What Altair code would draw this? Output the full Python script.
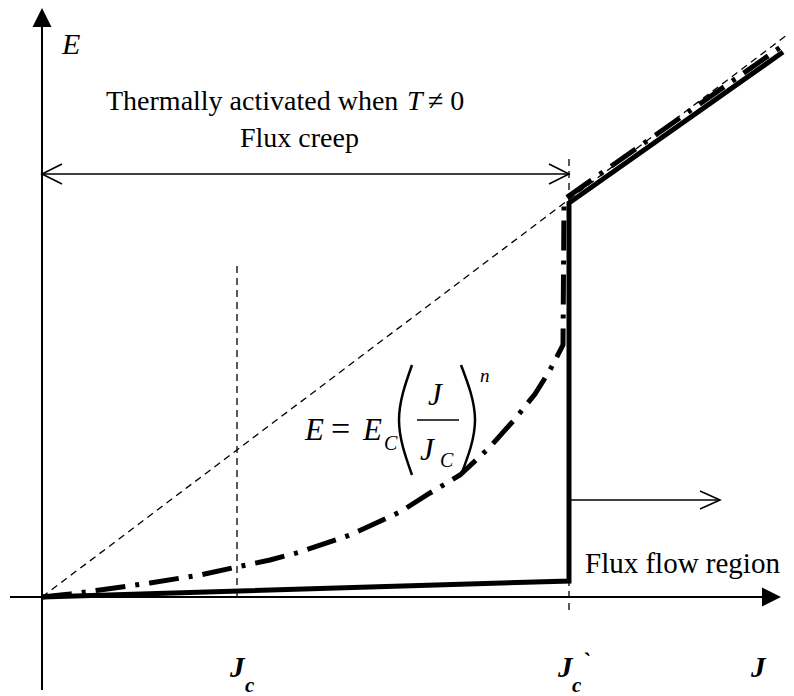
import altair as alt
import pandas as pd

# Sketch frame: J grows to the right, E grows upwards, origin where the axes cross
J_DOMAIN = [-42, 752]
E_DOMAIN = [-99, 597]
FONT = "Liberation Serif"

# ---- axes (with filled arrowheads) ----
axis_j = [-32, 0]
axis_j2 = [722, 0]
axis_e = [0, -93]
axis_e2 = [0, 570]
head_up = [0, 579.5]       # J, E of the arrowhead on the E axis
head_right = [729.5, 0]    # J, E of the arrowhead on the J axis

# ---- thin dashed guides: J_c, J_c` and the linear E-J line ----
guide_j = [195, 527, 0]
guide_j2 = [195, 527, 745]
guide_e = [0, -13, 0]
guide_e2 = [335, 442, 562]

# ---- arrow shafts: flux-creep span and flux-flow pointer ----
shaft_j = [0, 529]
shaft_j2 = [527, 678]
shaft_e = [423, 97]
chevron_id = ["left", "left", "left", "right", "right", "right", "flow", "flow", "flow"]
chevron_j = [20, 0, 20, 507, 527, 507, 658, 678, 658]
chevron_e = [433, 423, 413, 433, 423, 413, 106, 97, 88]

# ---- E-J characteristics ----
solid_j = [0, 527, 527, 741]
solid_e = [0, 16, 394, 545]
power_j = [0, 28, 58, 108, 158, 195, 228, 258, 308, 358, 388, 418, 448, 473,
           493, 508, 521, 522, 524, 743]
power_e = [0, 3, 7, 14, 22, 30, 37, 45, 62, 85, 104, 122, 150, 178,
           203, 227, 252, 392, 399, 553]

# ---- formula E = E_C (J / J_C)^n ----
paren_id = ["l", "l", "l", "r", "r", "r"]
paren_j = [370, 357, 370, 419, 433, 419]
paren_e = [232, 177, 122, 232, 177, 122]
bar_j, bar_j2, bar_e = [375], [417], [177]

# ---- texts ----
italic_text = ["E", "E", "E", "J", "J", "T", "n"]
italic_j = [20, 263, 321, 386, 378, 365, 438]
italic_e = [543, 157, 157, 192, 137, 487, 215]
italic_size = [30, 31, 31, 31, 31, 28, 19]
sub_text = ["C", "C"]
sub_j = [342, 398]
sub_e = [147, 130]
roman_text = ["=", "Thermally activated when", "\u2260 0", "Flux creep", "Flux flow region"]
roman_j = [289, 64, 386, 198, 543]
roman_e = [157, 487, 487, 450, 24]
roman_size = [34, 28, 28, 28, 29]
label_text = ["J", "c", "J", "c", "`", "J"]
label_j = [188, 203, 516, 530, 540, 709]
label_e = [-80, -95, -80, -95, -72, -80]
label_size = [29, 21, 29, 21, 24, 29]


def X(field="J"):
    return alt.X(f"{field}:Q", scale=alt.Scale(domain=J_DOMAIN, nice=False, zero=False), axis=None)


def Y(field="E"):
    return alt.Y(f"{field}:Q", scale=alt.Scale(domain=E_DOMAIN, nice=False, zero=False), axis=None)


def rules(j, j2, e, e2, **style):
    df = pd.DataFrame({"J": j, "J2": j2, "E": e, "E2": e2})
    return alt.Chart(df).mark_rule(color="black", **style).encode(
        x=X(), x2="J2:Q", y=Y(), y2="E2:Q")


def path(j, e, ids=None, **style):
    df = pd.DataFrame({"J": j, "E": e, "i": range(len(j)),
                       "id": ids if ids is not None else ["a"] * len(j)})
    return alt.Chart(df).mark_line(color="black", **style).encode(
        x=X(), y=Y(), order="i:Q", detail="id:N")


def head(pos, shape):
    df = pd.DataFrame({"J": [pos[0]], "E": [pos[1]]})
    return alt.Chart(df).mark_point(shape=shape, size=361, filled=True, color="black",
                                    opacity=1, strokeWidth=0).encode(x=X(), y=Y())


def texts(t, j, e, size, **style):
    df = pd.DataFrame({"J": j, "E": e, "t": t, "s": size})
    return alt.Chart(df).mark_text(font=FONT, align="left", baseline="alphabetic",
                                   color="black", **style).encode(
        x=X(), y=Y(), text="t:N", size=alt.Size("s:Q", scale=None))


layers = [
    rules(axis_j, axis_j2, axis_e, axis_e2, strokeWidth=2),
    head(head_up, "M0,-1L-1,1L1,1Z"),
    head(head_right, "M1,0L-1,-1L-1,1Z"),
    rules(guide_j, guide_j2, guide_e, guide_e2, strokeWidth=1.3, strokeDash=[7, 5]),
    rules(shaft_j, shaft_j2, shaft_e, shaft_e, strokeWidth=1.6),
    path(chevron_j, chevron_e, chevron_id, strokeWidth=1.6),
    path(solid_j, solid_e, strokeWidth=5, strokeJoin="miter"),
    path(power_j, power_e, strokeWidth=5, strokeDash=[30, 10, 4, 10], strokeCap="butt"),
    path(paren_j, paren_e, paren_id, strokeWidth=2.5, interpolate="natural"),
    rules(bar_j, bar_j2, bar_e, bar_e, strokeWidth=1.6),
    texts(italic_text, italic_j, italic_e, italic_size, fontStyle="italic"),
    texts(sub_text, sub_j, sub_e, [20, 20], fontStyle="italic"),
    texts(roman_text, roman_j, roman_e, roman_size),
    texts(label_text, label_j, label_e, label_size, fontStyle="italic", fontWeight="bold"),
]

chart = alt.layer(*layers).properties(
    width=794, height=696, padding=0,
    autosize=alt.AutoSizeParams(type="none"),
).configure_view(stroke=None)

chart.save("out.html", embed_options={"renderer": "svg", "actions": False})
